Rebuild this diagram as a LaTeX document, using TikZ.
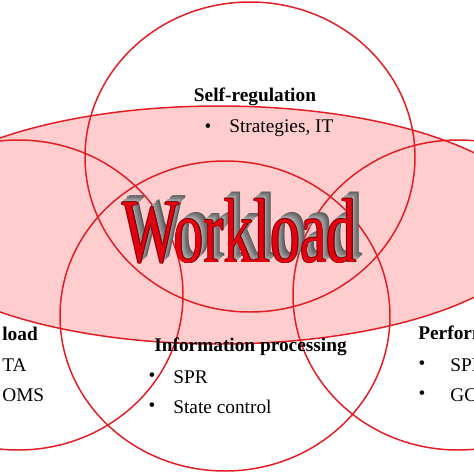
\documentclass[tikz,border=0pt]{standalone}
\usepackage{fontspec}
\setmainfont{Liberation Serif}
\usetikzlibrary{positioning}

\definecolor{ringred}{RGB}{225,30,38}
\definecolor{blush}{RGB}{255,205,205}
\definecolor{wordred}{RGB}{228,0,12}
\definecolor{wordshade}{RGB}{115,0,8}

\begin{document}
\begin{tikzpicture}[x=0.02cm, y=-0.02cm,
    ring/.style={draw=ringred, line width=0.85pt},
    head/.style={font=\fontsize{11}{13}\selectfont\bfseries, inner sep=0pt},
    item/.style={font=\fontsize{11}{13}\selectfont, inner sep=0pt, anchor=west},
    bul/.style={font=\fontsize{11}{13}\selectfont, inner sep=0pt},
    word/.style={font=\fontsize{34}{38}\selectfont, inner sep=0pt, anchor=base west}]
  \useasboundingbox (0,0) rectangle (474,474);
  \clip (0,0) rectangle (474,474);

  % the big workload ellipse
  \fill[blush] (219,225) ellipse [x radius=321, y radius=119];
  \draw[ring] (219,225) ellipse [x radius=321, y radius=119];

  % four rings: self-regulation, left, right, information processing
  \foreach \cx/\cy in {250/157, 18/295, 458/295, 225/316}
    \draw[ring] (\cx,\cy) ellipse [x radius=165, y radius=155];

  % Workload, extruded
  \foreach \i in {9,...,1} {
    \pgfmathsetmacro\tone{int(28+4*\i)}
    \node[word, text=black!\tone, xshift=\i*0.45pt, yshift=\i*0.42pt] (ext\i) at (122,262) {\scalebox{1}[1.53]{Workload}};
  }
  \foreach \dx/\dy in {-0.4/0, 0.4/0, 0/-0.4, 0/0.4, 0.5/-0.5}
    \node[word, text=wordshade, xshift=\dx pt, yshift=\dy pt] at (122,262) {\scalebox{1}[1.53]{Workload}};
  \node[word, text=wordred] (workload) at (122,262) {\scalebox{1}[1.53]{Workload}};

  % self-regulation
  \node[head] (selfreg) at (255,97) {Self-regulation};
  \node[bul] (b1) at (208,128) {\textbullet};
  \node[item] (strat) at (229,128) {Strategies, IT};

  % information processing
  \node[head] (infoproc) at (250.5,347) {Information processing};
  \node[bul] (b2) at (152,377) {\textbullet};
  \node[item] (spr) at (173,377) {SPR};
  \node[bul] (b3) at (152,407) {\textbullet};
  \node[item] (state) at (173,407) {State control};

  % left ring, cut by the border
  \node[head, anchor=west] (load) at (2,334) {load};
  \node[item] (ta) at (2,365) {TA};
  \node[item] (oms) at (2,395) {OMS};

  % right ring, cut by the border
  \node[head, anchor=west] (perf) at (418,333) {Performance};
  \node[bul] (b4) at (422,365) {\textbullet};
  \node[item] (sprr) at (450,365) {SPR};
  \node[bul] (b5) at (422,395) {\textbullet};
  \node[item] (gc) at (450,395) {GC};
\end{tikzpicture}
\end{document}
